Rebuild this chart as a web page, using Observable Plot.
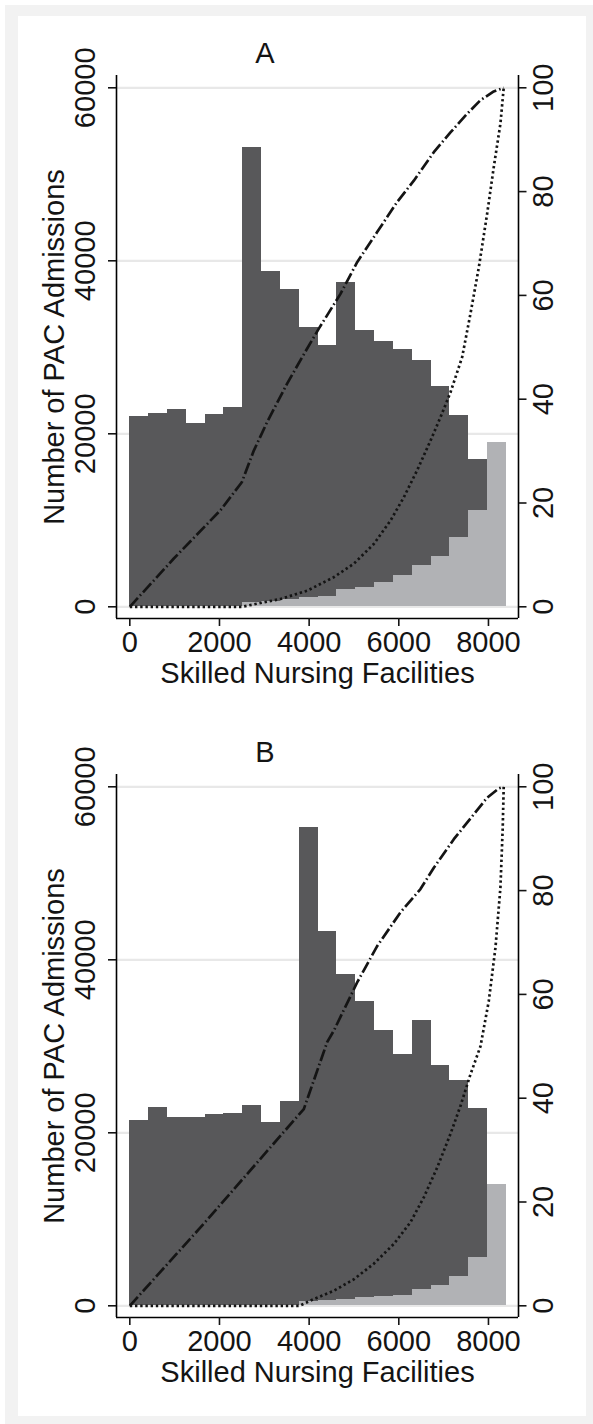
<!DOCTYPE html>
<html><head><meta charset="utf-8">
<script src="https://cdn.jsdelivr.net/npm/d3@7"></script>
<script src="https://cdn.jsdelivr.net/npm/@observablehq/plot@0.6"></script>
<style>
html,body{margin:0;padding:0;background:#fff;}
body{width:593px;height:1424px;position:relative;overflow:hidden;font-family:"Liberation Sans",Arial,Helvetica,sans-serif;}
#outer{position:absolute;left:5px;top:5px;width:588px;height:1419px;background:#f2f2f2;}
#inner{position:absolute;left:18px;top:16px;width:568px;height:1400px;background:#fff;}
.panel{position:absolute;left:0;}
</style></head><body>
<div id="outer"></div><div id="inner"></div>
<div id="pA" class="panel" style="top:0px"></div>
<div id="pB" class="panel" style="top:699px"></div>
<script>
// ---- data ----
const binEdges = [0,420,840,1260,1680,2100,2520,2940,3360,3780,4200,4620,5040,5460,5880,6300,6720,7140,7560,7980,8400];
const darkBarsA  = [21960,22350,22770,21190,22230,23000,53100,38770,36690,32290,30210,37500,31950,30670,29750,28420,25460,22150,17040,0];
const lightBarsA = [0,0,0,0,0,0,450,600,800,1080,1230,2000,2190,2770,3620,4730,5850,8000,11120,18960];
const darkBarsB  = [21420,22960,21810,21810,22120,22270,23190,21150,23650,55350,43230,38270,35190,31810,29040,32960,27730,26080,22850,0];
const lightBarsB = [0,0,0,0,0,0,0,0,0,460,650,770,920,1080,1230,1890,2310,3350,5580,14040];

const dashDotA_x   = [0,981,2022,2498,2766,3063,3509,3844,4216,4699,5071,5517,5963,6335,6781,7152,7524,7821,8118,8340];
const dashDotA_pct = [0,9.3,18.6,24.0,30.1,35.6,43.0,48.1,53.6,60.3,66.4,72.2,78.0,82.1,87.6,91.4,95.0,97.6,99.3,100];
const dottedA_x    = [0,2498,2840,3361,3955,4550,4996,5442,5814,6112,6409,6706,6929,7152,7413,7599,7785,7970,8118,8267,8340];
const dottedA_pct  = [0,0,0.6,1.5,3.1,5.7,8.3,12.1,16.6,21.1,26.3,32.0,36.5,41.3,48.1,56.5,65.4,75.7,84.7,93.1,100];

const dashDotB_x   = [0,1576,3881,4402,4550,5071,5517,6037,6483,6781,7227,7673,7970,8230,8340];
const dashDotB_pct = [0,15.1,37.9,50.8,53.0,62.3,69.3,75.8,80.3,84.4,89.9,94.7,97.9,99.7,100];
const dottedB_x    = [0,3784,4104,4550,4996,5442,5888,6260,6558,6855,7152,7375,7599,7822,8007,8156,8267,8318,8340];
const dottedB_pct  = [0,0,1.3,2.9,5.1,8.1,11.9,16.1,20.9,26.6,33.1,38.5,44.6,50.0,58.7,69.0,80.6,92.1,100];

const leftTicks  = [0,20000,40000,60000];
const rightTicks = [0,20,40,60,80,100];
const xTicks     = [0,2000,4000,6000,8000];
const panelTitles = ["A","B"];
const yTitle = "Number of PAC Admissions";
const xTitle = "Skilled Nursing Facilities";

// right axis (0-100) shares the left scale: 100 <-> 60000
const RIGHT_SCALE = 600;
const xDomain = [-297, 8670];
const yDomain = [-1353, 61422];

const FONT = '"Liberation Sans", Arial, Helvetica, sans-serif';
const FS = 29;
const DARK = "#58585a", LIGHT = "#b1b2b5", INK = "#141414";

function makePanel(dark, light, ddx, ddy, dtx, dty, title) {
  const bars = dark.map((v, i) => ({x1: binEdges[i], x2: binEdges[i+1], dark: v, light: light[i]}));
  const dd = ddx.map((x, i) => ({x, pct: ddy[i]}));
  const dt = dtx.map((x, i) => ({x, pct: dty[i]}));
  return Plot.plot({
    width: 593, height: 699,
    marginLeft: 116, marginRight: 75, marginTop: 75, marginBottom: 81,
    x: {domain: xDomain},
    y: {domain: yDomain},
    style: {background: "transparent", fontFamily: FONT, fontSize: FS + "px", color: INK, overflow: "visible"},
    marks: [
      Plot.ruleY(leftTicks, {stroke: "#e8e8e8", strokeWidth: 2.2}),
      Plot.rectY(bars.filter(d => d.dark > 0), {x1: "x1", x2: "x2", y: "dark", fill: DARK, shapeRendering: "crispEdges"}),
      Plot.rectY(bars.filter(d => d.light > 0), {x1: "x1", x2: "x2", y: "light", fill: LIGHT, shapeRendering: "crispEdges"}),
      Plot.line(dd, {x: "x", y: d => d.pct * RIGHT_SCALE, stroke: INK, strokeWidth: 2.7, strokeLinecap: "butt", strokeDasharray: "12,3,1.6,3"}),
      Plot.line(dt, {x: "x", y: d => d.pct * RIGHT_SCALE, stroke: INK, strokeWidth: 2.7, strokeLinecap: "butt", strokeDasharray: "2.4,2.8"}),
      Plot.ruleX(xDomain, {stroke: "#000", strokeWidth: 1.6}),
      Plot.ruleY([yDomain[0]], {stroke: "#000", strokeWidth: 1.6}),
      Plot.axisY(leftTicks, {anchor: "left", tickSize: 8, tickFormat: () => "", label: null, strokeWidth: 1.6}),
      Plot.axisY(rightTicks.map(r => r * RIGHT_SCALE), {anchor: "right", tickSize: 7.5, tickFormat: () => "", label: null, strokeWidth: 1.6}),
      Plot.axisX(xTicks, {anchor: "bottom", tickSize: 8, tickFormat: () => "", label: null, strokeWidth: 1.6}),
      Plot.text(leftTicks, {y: d => d, text: d => String(d), frameAnchor: "left", dx: -31, rotate: -90, lineAnchor: "middle", textAnchor: "middle", fontSize: FS}),
      Plot.text(rightTicks, {y: d => d * RIGHT_SCALE, text: d => String(d), frameAnchor: "right", dx: 25, rotate: -90, lineAnchor: "middle", textAnchor: "middle", fontSize: FS}),
      Plot.text(xTicks, {x: d => d, text: d => String(d), frameAnchor: "bottom", dy: 24.5, lineAnchor: "middle", textAnchor: "middle", fontSize: FS}),
      Plot.text([yTitle], {text: d => d, frameAnchor: "left", dx: -62, rotate: -90, lineAnchor: "middle", textAnchor: "middle", fontSize: FS}),
      Plot.text([xTitle], {text: d => d, frameAnchor: "bottom", dy: 55, lineAnchor: "middle", textAnchor: "middle", fontSize: FS}),
      Plot.text([title], {text: d => d, frameAnchor: "top-left", dx: 148.5, dy: -22, lineAnchor: "middle", textAnchor: "middle", fontSize: FS})
    ]
  });
}

document.getElementById("pA").appendChild(makePanel(darkBarsA, lightBarsA, dashDotA_x, dashDotA_pct, dottedA_x, dottedA_pct, panelTitles[0]));
document.getElementById("pB").appendChild(makePanel(darkBarsB, lightBarsB, dashDotB_x, dashDotB_pct, dottedB_x, dottedB_pct, panelTitles[1]));
</script></body></html>
